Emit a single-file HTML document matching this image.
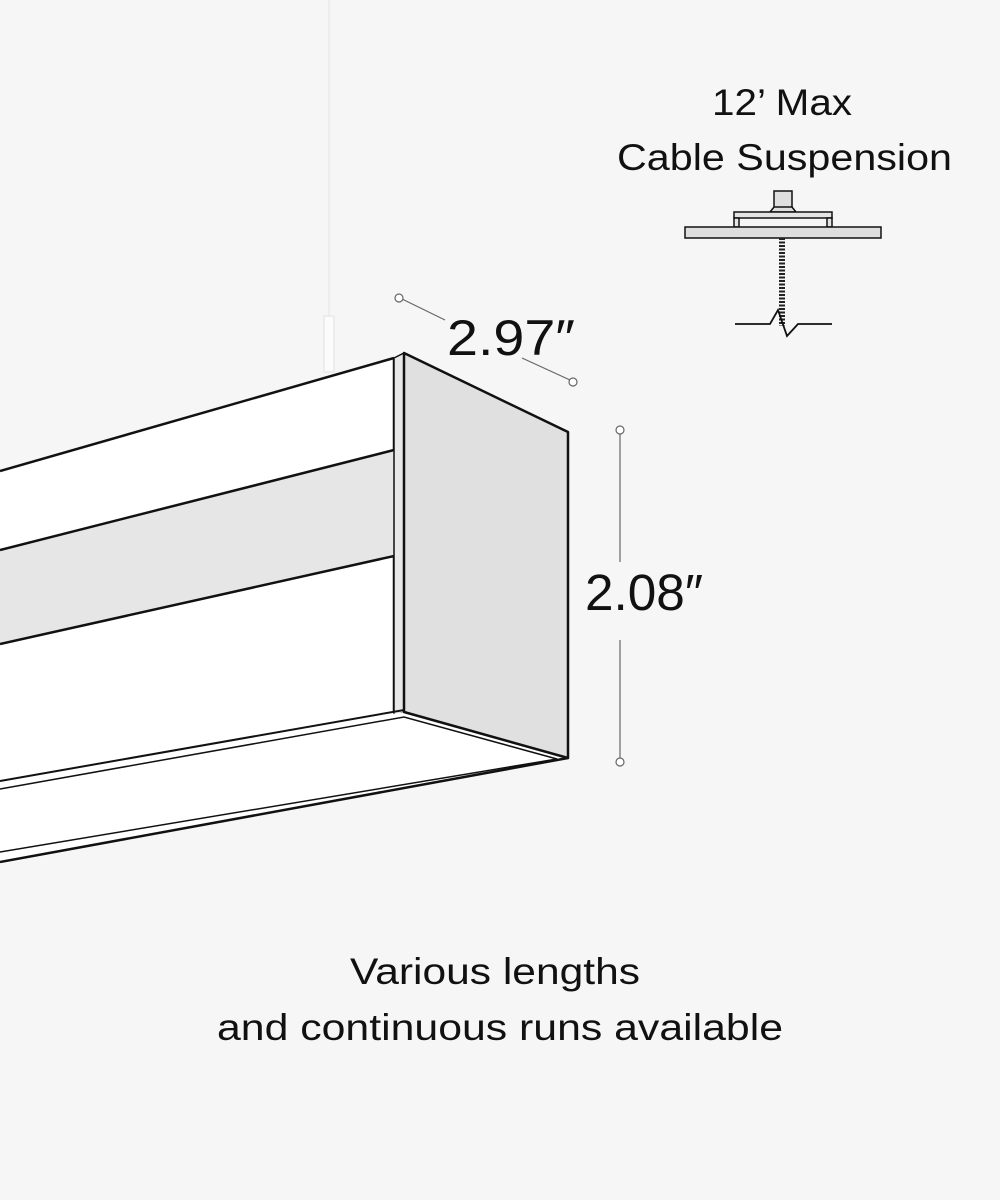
<!DOCTYPE html>
<html><head><meta charset="utf-8"><style>
html,body{margin:0;padding:0;background:#f6f6f6;}
svg{display:block}
text{font-family:"Liberation Sans",sans-serif;fill:#111}
</style></head><body>
<svg width="1000" height="1200" viewBox="0 0 1000 1200" xmlns="http://www.w3.org/2000/svg">
<rect width="1000" height="1200" fill="#f6f6f6"/>
<line x1="329" y1="0" x2="329" y2="318" stroke="#e4e4e4" stroke-width="1"/>
<rect x="324" y="316" width="10" height="56" fill="#fbfbfb" stroke="#e2e2e2" stroke-width="1"/>
<polygon points="0,471 404,355 404,712 0,788" fill="#ffffff"/>
<polygon points="0,550 394,450 394,556 0,644" fill="#e6e6e6"/>
<polyline points="0,471 394,358" fill="none" stroke="#111" stroke-width="2.5"/>
<polyline points="0,550 394,450 394,358" fill="none" stroke="#111" stroke-width="2.5"/>
<polyline points="0,644 394,556 394,712" fill="none" stroke="#111" stroke-width="2.5"/>
<polygon points="394,358 404,353 404,712 394,716" fill="#e8e8e8" stroke="#111" stroke-width="1.5"/>
<polygon points="0,783 404,712 568,758 0,864" fill="#ffffff"/>
<polyline points="0,781 404,710 568,758" fill="none" stroke="#111" stroke-width="2"/>
<polyline points="0,789 404,717 557,759" fill="none" stroke="#111" stroke-width="1.5"/>
<line x1="0" y1="852" x2="557" y2="759" stroke="#111" stroke-width="1.5"/>
<line x1="0" y1="862" x2="568" y2="758" stroke="#111" stroke-width="2.5"/>
<polygon points="404,353 568,432 568,758 404,712" fill="#e0e0e0" stroke="#111" stroke-width="2.5" stroke-linejoin="round"/>
<g stroke="#666" stroke-width="1.2" fill="#fff">
<line x1="402" y1="299" x2="445" y2="320"/>
<line x1="522" y1="358" x2="570" y2="380"/>
<circle cx="399" cy="298" r="4"/>
<circle cx="573" cy="382" r="4"/>
<line x1="620" y1="434" x2="620" y2="562"/>
<line x1="620" y1="640" x2="620" y2="758"/>
<circle cx="620" cy="430" r="4"/>
<circle cx="620" cy="762" r="4"/>
</g>
<text x="447" y="355" font-size="50" textLength="128" lengthAdjust="spacingAndGlyphs">2.97″</text>
<text x="585" y="610" font-size="51" textLength="118" lengthAdjust="spacingAndGlyphs">2.08″</text>
<text x="712" y="115" font-size="37" textLength="140" lengthAdjust="spacingAndGlyphs">12’ Max</text>
<text x="617" y="170" font-size="37" textLength="335" lengthAdjust="spacingAndGlyphs">Cable Suspension</text>
<g stroke="#111" stroke-width="1.5">
<rect x="774" y="191" width="18" height="17" fill="#dedede"/>
<polygon points="770,212 774,207 792,207 796,212" fill="#dedede"/>
<rect x="734" y="212" width="98" height="6" fill="#e4e4e4"/>
<rect x="734" y="218" width="5" height="9" fill="#e4e4e4"/>
<rect x="827" y="218" width="5" height="9" fill="#e4e4e4"/>
<rect x="685" y="227" width="196" height="11" fill="#dedede"/>
</g>
<line x1="782" y1="238" x2="782" y2="326" stroke="#222" stroke-width="6" stroke-dasharray="2 1.5"/>
<polyline points="735,324 770,324 778,310 787,336 798,324 832,324" fill="none" stroke="#111" stroke-width="1.8"/>
<text x="350" y="984" font-size="37" textLength="290" lengthAdjust="spacingAndGlyphs">Various lengths</text>
<text x="217" y="1040" font-size="37" textLength="566" lengthAdjust="spacingAndGlyphs">and continuous runs available</text>
</svg>
</body></html>
